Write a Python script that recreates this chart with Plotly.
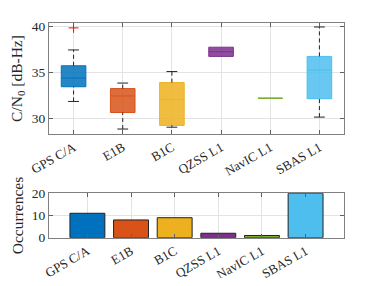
import plotly.graph_objects as go

# ---- data ----
systems = ["GPS C/A", "E1B", "B1C", "QZSS L1", "NavIC L1", "SBAS L1"]
q1 = [33.4, 30.6, 29.2, 36.7, 32.15, 32.1]
median = [34.35, 32.4, 32.0, 37.2, 32.15, 35.2]
q3 = [35.68, 33.2, 33.85, 37.7, 32.15, 36.7]
whisk_lo = [31.8, 28.8, 29.0, 36.7, 32.15, 30.1]
whisk_hi = [37.4, 33.8, 35.05, 37.7, 32.15, 39.9]
outlier_sys = [1]
outlier_val = [39.8]
occurrences = [11, 8, 9, 2, 1, 20]

colors = ["#0072BD", "#D95319", "#EDB120", "#7E2F8E", "#77AC30", "#4DBEEE"]

def rgba(hexc, a):
    h = hexc.lstrip("#")
    return "rgba(%d,%d,%d,%.2f)" % (int(h[0:2], 16), int(h[2:4], 16), int(h[4:6], 16), a)

FONT = "Liberation Serif"
pos = list(range(1, len(systems) + 1))
cap = 0.11

fig = go.Figure()

# whiskers (dashed) and caps
for i, p in enumerate(pos):
    if whisk_hi[i] > q3[i]:
        fig.add_trace(go.Scatter(x=[p, p], y=[q3[i], whisk_hi[i]], mode="lines",
                                 line=dict(color="#222", width=1, dash="4px,3px"),
                                 showlegend=False, hoverinfo="skip", xaxis="x", yaxis="y"))
        fig.add_trace(go.Scatter(x=[p - cap, p + cap], y=[whisk_hi[i]] * 2, mode="lines",
                                 line=dict(color="#222", width=1),
                                 showlegend=False, hoverinfo="skip", xaxis="x", yaxis="y"))
    if whisk_lo[i] < q1[i]:
        fig.add_trace(go.Scatter(x=[p, p], y=[whisk_lo[i], q1[i]], mode="lines",
                                 line=dict(color="#222", width=1, dash="4px,3px"),
                                 showlegend=False, hoverinfo="skip", xaxis="x", yaxis="y"))
        fig.add_trace(go.Scatter(x=[p - cap, p + cap], y=[whisk_lo[i]] * 2, mode="lines",
                                 line=dict(color="#222", width=1),
                                 showlegend=False, hoverinfo="skip", xaxis="x", yaxis="y"))

# boxes
for i, p in enumerate(pos):
    fig.add_trace(go.Box(x=[p], q1=[q1[i]], median=[median[i]], q3=[q3[i]],
                         lowerfence=[q1[i]], upperfence=[q3[i]],
                         width=0.5, whiskerwidth=0, boxpoints=False,
                         fillcolor=rgba(colors[i], 0.85),
                         line=dict(color=colors[i], width=1),
                         showlegend=False, xaxis="x", yaxis="y"))

# outliers
fig.add_trace(go.Scatter(x=outlier_sys, y=outlier_val, mode="markers",
                         marker=dict(symbol="cross-thin", size=7, color="red",
                                     line=dict(color="red", width=1)),
                         showlegend=False, xaxis="x", yaxis="y"))

# bars
fig.add_trace(go.Bar(x=pos, y=occurrences, width=0.8,
                     marker=dict(color=colors, line=dict(color="#222", width=1)),
                     showlegend=False, xaxis="x2", yaxis="y2"))

axis_common = dict(showline=True, linecolor="#808080", linewidth=1, mirror="ticks",
                   ticks="inside", ticklen=4, tickcolor="#606060", automargin=False,
                   showgrid=True, gridcolor="#e3e3e3", gridwidth=1, zeroline=False)
xfont = dict(family=FONT, size=13, color="#262626")
yfont = dict(family=FONT, size=13.5, color="#262626")

fig.update_layout(
    width=365, height=270,
    margin=dict(l=0, r=0, t=0, b=0),
    paper_bgcolor="white", plot_bgcolor="white",
    font=dict(family=FONT, size=13.5, color="#262626"),
    xaxis=dict(domain=[0.1123, 0.9205], anchor="y", range=[0.5, 6.5],
               tickvals=pos, ticktext=systems, tickangle=-30, ticklabelstandoff=0,
               tickfont=xfont, **axis_common),
    yaxis=dict(domain=[0.5333, 0.9444], anchor="x", range=[28.26, 40.33],
               tickvals=[30, 35, 40], tickfont=yfont,
               title=dict(text="C/N<sub>0</sub> [dB-Hz]", font=dict(family=FONT, size=15.5), standoff=7),
               **axis_common),
    xaxis2=dict(domain=[0.1123, 0.9205], anchor="y2", range=[0.12, 6.88],
                tickvals=pos, ticktext=systems, tickangle=-30, ticklabelstandoff=0,
                tickfont=xfont, **axis_common),
    yaxis2=dict(domain=[0.1493, 0.3137], anchor="x2", range=[0, 20],
                tickvals=[0, 10, 20], tickfont=yfont,
                title=dict(text="Occurrences", font=dict(family=FONT, size=15.5), standoff=4),
                **axis_common),
)

fig.write_html("out.html")
